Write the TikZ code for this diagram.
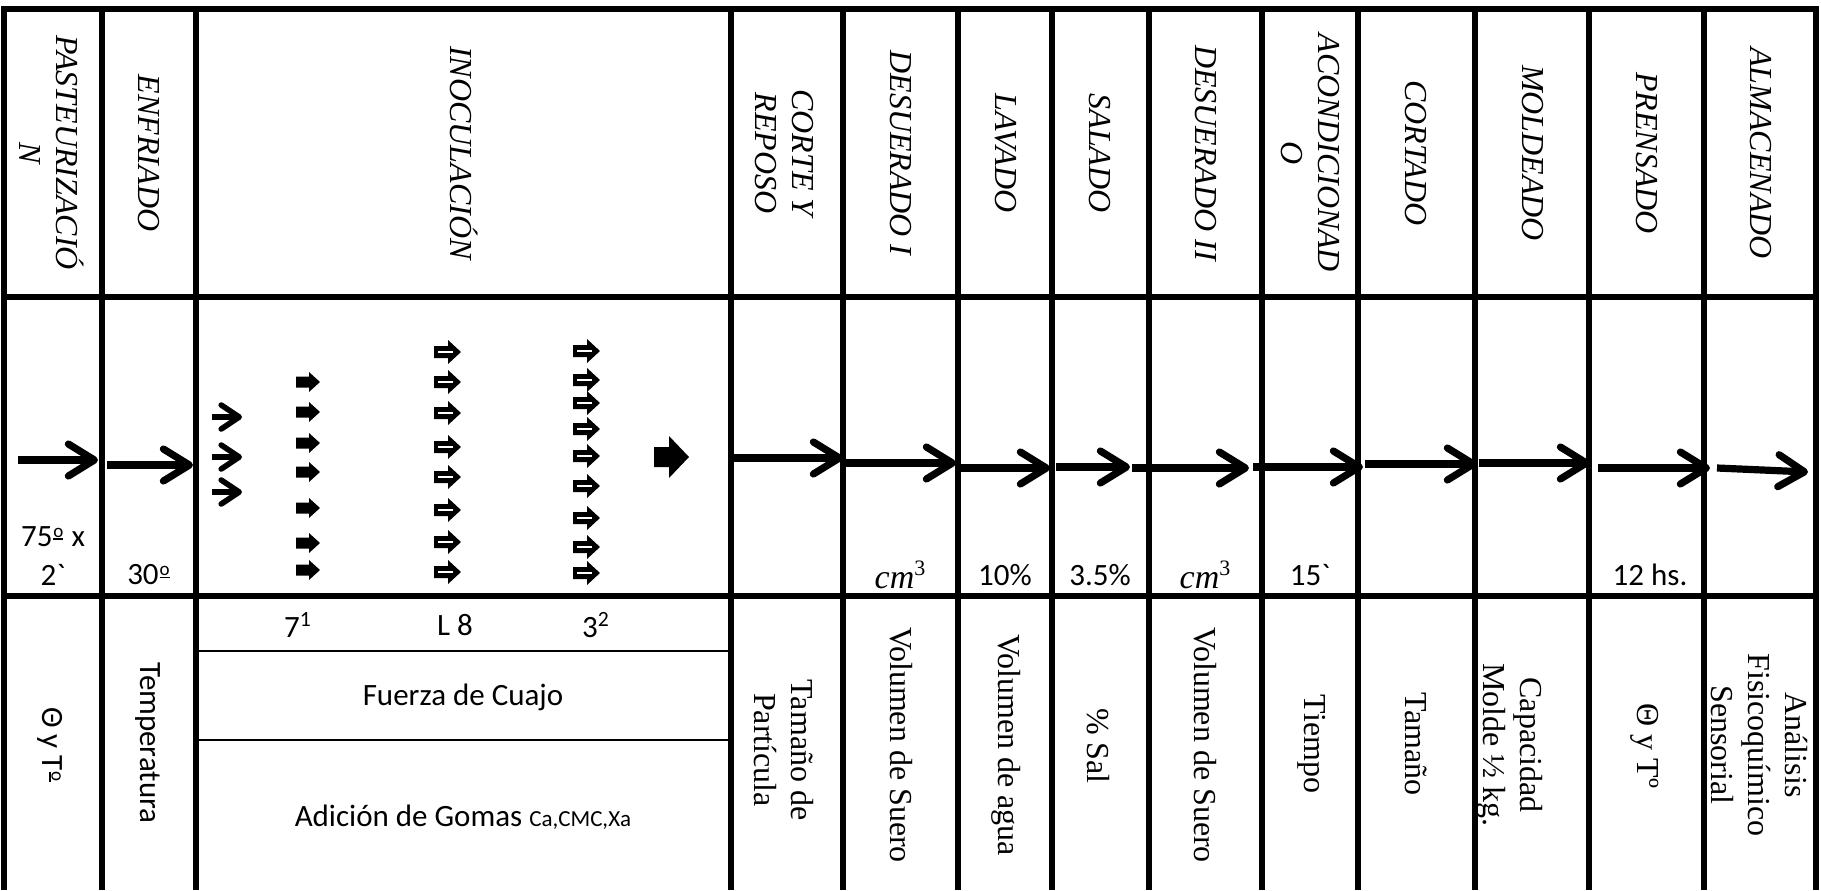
\documentclass[tikz,border=0pt]{standalone}
\usepackage{fontspec}
\setmainfont{Liberation Serif}
\newfontfamily\calib{Carlito}
\usetikzlibrary{arrows.meta}
\newcommand\blockA[2]{\fill (#1,#2-5.5) -- ++(13,0) -- ++(0,-4.5) -- ++(11,10) -- ++(-11,10) -- ++(0,-4.5) -- ++(-13,0) -- cycle;}
\newcommand\blockB[2]{\fill (#1,#2-6) -- ++(14,0) -- ++(0,-6) -- ++(13,12) -- ++(-13,12) -- ++(0,-6) -- ++(-14,0) -- cycle;
  \draw[white,line width=0.8pt] (#1+4,#2) -- (#1+19,#2);}
\newcommand\ordm{\kern0.4pt\raisebox{4.6pt}{\fontsize{9.5}{9.5}\selectfont o}\kern-5pt\rule[3.4pt]{5pt}{0.8pt}\kern0.6pt}
\newcommand\cmcube{{\rmfamily\fontsize{17}{20}\selectfont\itshape cm}\raisebox{6.5pt}{\rmfamily\fontsize{11}{11}\selectfont 3}}
\begin{document}
\begin{tikzpicture}[x=0.5pt,y=-0.5pt,
  grid/.style={line width=2.6pt},
  thin grid/.style={line width=1.2pt},
  hdr/.style={rotate=-90,font=\fontsize{16}{18.5}\selectfont\itshape,align=center,inner sep=0pt},
  vlab/.style={rotate=-90,font=\fontsize{16}{18.5}\selectfont,align=center,inner sep=0pt},
  svlab/.style={rotate=-90,font=\calib\fontsize{15.5}{18}\selectfont,align=center,inner sep=0pt},
  slab/.style={font=\calib\fontsize{15.5}{18}\selectfont,align=center,inner sep=0pt},
  flow/.style={line width=3.6pt,-{Straight Barb[length=13pt,width=16pt,round]}},
  chev/.style={line width=2.8pt,-{Straight Barb[length=9pt,width=12pt,round]}},
]
\useasboundingbox (0,0) rectangle (1821,890);
% grid
\foreach \x in {4,102,196,731,843,958,1052,1149,1262,1358,1475,1589,1704,1816}
  \draw[grid] (\x,9) -- (\x,890);
\draw[grid,line cap=rect] (4,9) -- (1816,9);
\draw[grid] (4,297) -- (1816,297);
\draw[grid] (4,596) -- (1816,596);
\draw[thin grid] (196,651) -- (731,651);
\draw[thin grid] (196,740) -- (731,740);
% headers
\node[hdr] (h1) at (52,153) {PASTEURIZACIÓ\\N};
\node[hdr] (h2) at (149,153) {ENFRIADO};
\node[hdr] (h3) at (464,153) {INOCULACIÓN};
\node[hdr] (h4) at (784,153) {CORTE Y\\REPOSO};
\node[hdr] (h5) at (901,153) {DESUERADO I};
\node[hdr] (h6) at (1006,153) {LAVADO};
\node[hdr] (h7) at (1100,153) {SALADO};
\node[hdr] (h8) at (1206,153) {DESUERADO II};
\node[hdr] (h9) at (1310,153) {ACONDICIONAD\\O};
\node[hdr] (h10) at (1416,153) {CORTADO};
\node[hdr] (h11) at (1533,153) {MOLDEADO};
\node[hdr] (h12) at (1647,153) {PRENSADO};
\node[hdr] (h13) at (1761,153) {ALMACENADO};
% flow arrows
\draw[flow] (18,460) -- (98,460);
\draw[flow] (107,465) -- (193,465);
\draw[flow] (731,458) -- (843,458);
\draw[flow] (843,463) -- (956,463);
\draw[flow] (958,468) -- (1050,468);
\draw[flow] (1056,467) -- (1130,467);
\draw[flow] (1132,468) -- (1249,468);
\draw[flow] (1253,467) -- (1363,467);
\draw[flow] (1365,464) -- (1477,464);
\draw[flow] (1479,463) -- (1590,463);
\draw[flow] (1598,468) -- (1710,468);
\draw[flow] (1717,468) -- (1808,472);
% inoculation arrows
\foreach \y in {417,457,492} \draw[chev] (212,\y) -- (242,\y);
\foreach \y in {382,412,443,472,508,543,570} {\blockA{296}{\y}}
\foreach \y in {352,382,413,447,477,510,542,572} {\blockB{434}{\y}}
\foreach \y in {351,380,403,429,456,486,518,547,573} {\blockB{573}{\y}}
\fill (654,447) -- (669,447) -- (669,436) -- (689,457) -- (669,478) -- (669,467) -- (654,467) -- cycle;
% middle row values
\node[slab] (m1a) at (53,537) {75\ordm{} x};
\node[slab] (m1b) at (53,575) {2`};
\node[slab] (m2) at (149,575) {30\ordm};
\node[slab] (m5) at (900,575) {\cmcube};
\node[slab] (m6) at (1005,575) {10\%};
\node[slab] (m7) at (1100,575) {3.5\%};
\node[slab] (m8) at (1205,575) {\cmcube};
\node[slab] (m9) at (1310,575) {15`};
\node[slab] (m12) at (1650,575) {12 hs.};
% bottom row
\node[svlab] (b1) at (50,745) {Θ y T\ordm};
\node[svlab] (b2) at (148,743) {Temperatura};
\node[slab] (b3a) at (298,625) {7\textsuperscript{1}};
\node[slab] (b3b) at (455,625) {L 8};
\node[slab] (b3c) at (596,625) {3\textsuperscript{2}};
\node[slab] (b3d) at (463,697) {Fuerza de Cuajo};
\node[slab] (b3e) at (463,817) {Adición de Gomas {\fontsize{11.5}{13}\selectfont Ca,CMC,Xa}};
\node[vlab] (b4) at (784,750) {Tamaño de\\Partícula};
\node[vlab] (b5) at (901,745) {Volumen de Suero};
\node[vlab] (b6) at (1006,745) {Volumen de agua};
\node[vlab] (b7) at (1098,746) {\% Sal};
\node[vlab] (b8) at (1205,745) {Volumen de Suero};
\node[vlab] (b9) at (1312,744) {Tiempo};
\node[vlab] (b10) at (1416,744) {Tamaño};
\node[vlab] (b11) at (1510,745) {Capacidad\\Molde ½ kg.};
\node[vlab] (b12) at (1645,746) {Θ y Tº};
\node[vlab] (b13) at (1759,745) {Análisis\\Fisicoquímico\\Sensorial};
\end{tikzpicture}
\end{document}
